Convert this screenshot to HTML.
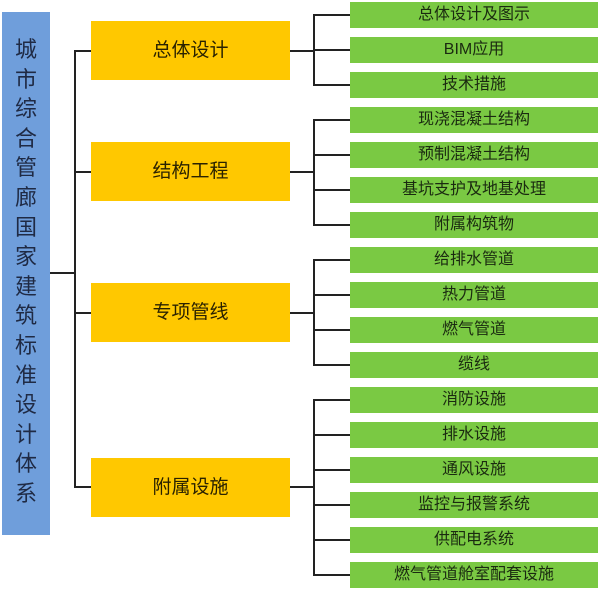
<!DOCTYPE html>
<html><head><meta charset="utf-8"><style>
body{margin:0;width:600px;height:589px;background:#fff;position:relative;overflow:hidden;font-family:"Liberation Sans","Noto Sans CJK SC",sans-serif}
.b{position:absolute;left:2px;top:12px;width:48px;height:523px;background:#6f9edb}
.bt{position:absolute;left:2px;top:39px;width:48px;height:466px;display:flex;flex-direction:column;justify-content:space-between;align-items:center;font-size:22px;color:#1f2a44}
.bt span{display:block;height:22px;line-height:22px}
.y{position:absolute;left:91px;width:199px;height:59px;background:#ffc800;font-size:19px;line-height:59px;text-align:center;color:#2a2200}
.g{position:absolute;left:350px;width:248px;height:26px;background:#7ac943;font-size:16px;line-height:26px;text-align:center;color:#1a2a10}
.l{position:absolute;background:#222}
</style></head><body>
<div class="b"></div>
<div class="bt"><span>城</span><span>市</span><span>综</span><span>合</span><span>管</span><span>廊</span><span>国</span><span>家</span><span>建</span><span>筑</span><span>标</span><span>准</span><span>设</span><span>计</span><span>体</span><span>系</span></div>
<div class="l" style="left:50px;top:272px;width:24px;height:2px"></div>
<div class="l" style="left:74px;top:50px;width:2px;height:438px"></div>
<div class="l" style="left:74px;top:50px;width:17px;height:2px"></div>
<div class="l" style="left:74px;top:171px;width:17px;height:2px"></div>
<div class="l" style="left:74px;top:312px;width:17px;height:2px"></div>
<div class="l" style="left:74px;top:486px;width:17px;height:2px"></div>
<div class="y" style="top:21px">总体设计</div>
<div class="y" style="top:142px">结构工程</div>
<div class="y" style="top:283px">专项管线</div>
<div class="y" style="top:458px">附属设施</div>
<div class="l" style="left:290px;top:50px;width:23px;height:2px"></div>
<div class="l" style="left:290px;top:171px;width:23px;height:2px"></div>
<div class="l" style="left:290px;top:312px;width:23px;height:2px"></div>
<div class="l" style="left:290px;top:486px;width:23px;height:2px"></div>
<div class="l" style="left:313px;top:15px;width:2px;height:71px"></div>
<div class="l" style="left:313px;top:120px;width:2px;height:106px"></div>
<div class="l" style="left:313px;top:260px;width:2px;height:106px"></div>
<div class="l" style="left:313px;top:400px;width:2px;height:176px"></div>
<div id="rows"></div>
<script>
var t=["总体设计及图示","BIM应用","技术措施","现浇混凝土结构","预制混凝土结构","基坑支护及地基处理","附属构筑物","给排水管道","热力管道","燃气管道","缆线","消防设施","排水设施","通风设施","监控与报警系统","供配电系统","燃气管道舱室配套设施"];
var h="";for(var i=0;i<17;i++){var y=2+35*i;h+='<div class="l" style="left:313px;top:'+(y+12)+'px;width:37px;height:2px"></div><div class="g" style="top:'+y+'px">'+t[i]+'</div>';}
document.getElementById("rows").innerHTML=h;
</script>
</body></html>
